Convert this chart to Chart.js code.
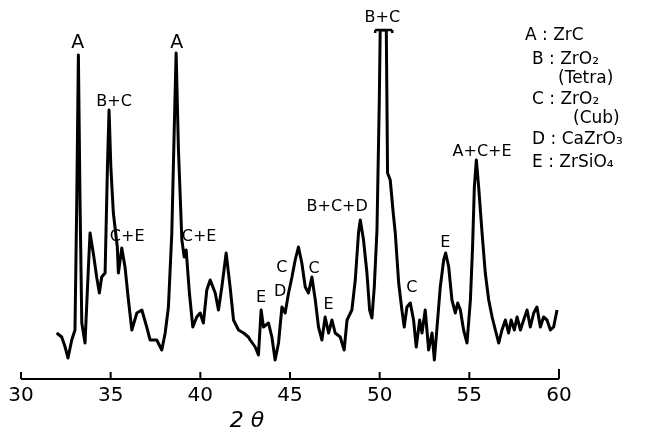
<!DOCTYPE html>
<html>
<head>
<meta charset="utf-8">
<script src="https://cdn.jsdelivr.net/npm/chart.js@4/dist/chart.umd.min.js"></script>
<style>
  html, body { margin: 0; padding: 0; background: #fff; }
  canvas { display: block; }
</style>
</head>
<body>
<canvas id="chart" width="664" height="430"></canvas>
<script>
'use strict';

// 2-theta positions and intensities
const twoTheta = [
  31.99, 32.27, 32.46, 32.62, 32.83, 33.01, 33.11, 33.20, 33.29, 33.39,
  33.57, 33.76, 33.85, 34.03, 34.22, 34.37, 34.50, 34.69, 34.82, 34.91,
  35.01, 35.15, 35.37, 35.43, 35.62, 35.80, 35.99, 36.18, 36.46, 36.74,
  37.01, 37.20, 37.57, 37.85, 38.04, 38.22, 38.41, 38.54, 38.65, 38.78,
  38.97, 39.10, 39.21, 39.39, 39.58, 39.80, 39.99, 40.17, 40.36, 40.55,
  40.83, 41.01, 41.20, 41.44, 41.66, 41.85, 42.13, 42.41, 42.68, 42.78,
  43.06, 43.24, 43.39, 43.52, 43.80, 43.99, 44.17, 44.36, 44.55, 44.73,
  44.92, 45.11, 45.29, 45.47, 45.66, 45.85, 46.03, 46.22, 46.41, 46.59,
  46.78, 46.96, 47.15, 47.34, 47.52, 47.80, 48.02, 48.18, 48.45, 48.64,
  48.82, 48.92, 49.10, 49.29, 49.44, 49.57, 49.70, 49.85, 49.98, 50.03,
  50.37, 50.44, 50.59, 50.74, 50.87, 51.06, 51.24, 51.37, 51.52, 51.71,
  51.89, 52.04, 52.23, 52.36, 52.54, 52.73, 52.92, 53.05, 53.20, 53.38,
  53.57, 53.68, 53.85, 54.03, 54.22, 54.35, 54.50, 54.68, 54.87, 55.06,
  55.18, 55.28, 55.39, 55.52, 55.71, 55.89, 56.08, 56.27, 56.45, 56.64,
  56.82, 57.01, 57.19, 57.33, 57.51, 57.66, 57.85, 58.03, 58.22, 58.40,
  58.59, 58.77, 58.96, 59.14, 59.33, 59.52, 59.70, 59.89
];
const intensity = [
  46, 42, 32, 21, 39, 49, 179, 324, 179, 56,
  36, 112, 146, 126, 102, 86, 102, 106, 212, 269,
  212, 166, 132, 106, 131, 112, 79, 49, 66, 69,
  52, 39, 39, 29, 46, 72, 146, 246, 326, 229,
  139, 122, 129, 86, 52, 62, 66, 56, 89, 99,
  86, 69, 92, 126, 92, 59, 49, 46, 42, 39,
  32, 24, 69, 52, 56, 42, 19, 36, 72, 66,
  86, 102, 119, 132, 116, 92, 86, 102, 79, 52,
  39, 62, 46, 59, 46, 42, 29, 59, 69, 99,
  146, 159, 139, 106, 69, 61, 92, 149, 279, 349,
  349, 206, 199, 169, 146, 96, 69, 52, 72, 76,
  59, 32, 59, 46, 69, 29, 46, 19, 52, 92,
  119, 126, 112, 79, 66, 76, 69, 49, 36, 79,
  132, 192, 219, 192, 146, 106, 79, 62, 49, 36,
  49, 59, 46, 59, 49, 62, 49, 59, 69, 52,
  66, 72, 52, 62, 59, 49, 52, 69
];

const xTicks = [30, 35, 40, 45, 50, 55, 60];

// phase labels over the peaks
const peakLabels = ['A', 'B+C', 'C+E', 'A', 'C+E', 'E', 'D', 'C', 'C', 'E', 'B+C+D', 'B+C', 'C', 'E', 'A+C+E'];
const peakPos = [33.16, 35.19, 35.92, 38.69, 39.93, 43.38, 44.45, 44.55, 46.35, 47.15, 47.63, 50.15, 51.80, 53.66, 55.71];
const peakLevel = [336, 277, 142, 336, 142, 81, 87, 111, 110, 74, 172, 361, 91, 136, 227];

const legendLines = ['A : ZrC', 'B : ZrO₂', '(Tetra)', 'C : ZrO₂', '(Cub)', 'D : CaZrO₃', 'E : ZrSiO₄'];
const legendIndent = [0, 7, 33, 7, 48, 7, 7];

const points = twoTheta.map((t, i) => ({ x: t, y: intensity[i] }));

const FONT = '"DejaVu Sans", sans-serif';

const decorations = {
  id: 'decorations',
  afterDraw(chart) {
    const c = chart.ctx;
    const xs = chart.scales.x;
    const ys = chart.scales.y;
    const base = ys.getPixelForValue(0);
    c.save();

    // axis line with upward ticks
    c.strokeStyle = '#000';
    c.lineWidth = 2;
    c.beginPath();
    c.moveTo(xs.getPixelForValue(30), base);
    c.lineTo(xs.getPixelForValue(60), base);
    xTicks.forEach((t, i) => {
      const px = xs.getPixelForValue(t);
      c.moveTo(px, base);
      c.lineTo(px, base - (i === xTicks.length - 1 ? 10 : 7));
    });
    c.stroke();

    // cap on the clipped peak
    const top = ys.getPixelForValue(349);
    c.lineWidth = 2.5;
    c.beginPath();
    c.moveTo(xs.getPixelForValue(49.75), top);
    c.lineTo(xs.getPixelForValue(50.7), top);
    c.moveTo(xs.getPixelForValue(49.75), top);
    c.lineTo(xs.getPixelForValue(49.75), top + 3);
    c.moveTo(xs.getPixelForValue(50.7), top);
    c.lineTo(xs.getPixelForValue(50.7), top + 3);
    c.stroke();

    // peak labels
    c.fillStyle = '#000';
    c.textAlign = 'center';
    c.textBaseline = 'middle';
    peakLabels.forEach((txt, i) => {
      c.font = (txt === 'A' ? '19px ' : '16px ') + FONT;
      c.fillText(txt, xs.getPixelForValue(peakPos[i]), ys.getPixelForValue(peakLevel[i]));
    });

    // axis title
    c.font = 'italic 22px ' + FONT;
    c.fillText('2 θ', xs.getPixelForValue(42.6), base + 42);

    // phase key
    c.textAlign = 'left';
    c.font = '17px ' + FONT;
    const ly = [36, 60, 79, 100, 119, 140, 163];
    legendLines.forEach((txt, i) => {
      c.fillText(txt, 525 + legendIndent[i], ly[i]);
    });
    c.restore();
  }
};

new Chart(document.getElementById('chart'), {
  type: 'line',
  data: {
    datasets: [{
      data: points,
      borderColor: '#000',
      borderWidth: 3,
      borderJoinStyle: 'round',
      pointRadius: 0,
      tension: 0
    }]
  },
  options: {
    responsive: false,
    animation: false,
    layout: { padding: { top: 30, left: 21, right: 105, bottom: 0 } },
    plugins: { legend: { display: false }, tooltip: { enabled: false } },
    scales: {
      x: {
        type: 'linear',
        min: 30,
        max: 60,
        afterFit(scale) { scale.height = 51; },
        afterBuildTicks(scale) { scale.ticks = xTicks.map(v => ({ value: v })); },
        grid: { display: false, drawTicks: false },
        border: { display: false },
        ticks: {
          color: '#000',
          padding: 5,
          font: { family: 'DejaVu Sans', size: 20 }
        }
      },
      y: {
        display: false,
        min: 0,
        max: 349
      }
    }
  },
  plugins: [decorations]
});
</script>
</body>
</html>
